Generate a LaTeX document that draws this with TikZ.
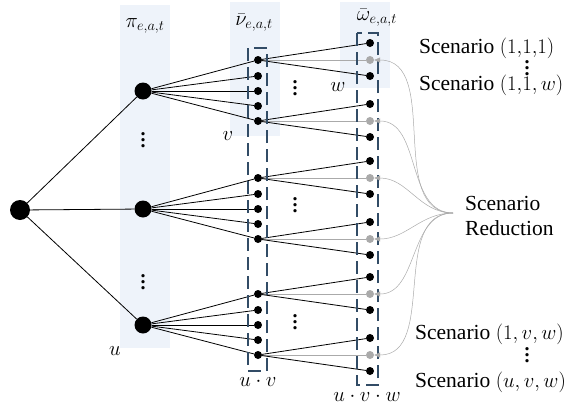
\documentclass[tikz,border=0pt]{standalone}
\usepackage{fontspec}
\setmainfont{Liberation Serif}
\usetikzlibrary{arrows.meta}
\definecolor{band}{RGB}{238,243,250}
\definecolor{frameblue}{RGB}{50,76,102}
\definecolor{reduced}{RGB}{170,170,170}
% vertical ellipsis with wider spacing than \vdots
\newcommand{\tallvdots}{\vbox{\baselineskip=6pt\lineskiplimit=0pt\hbox{.}\hbox{.}\hbox{.}}}
\tikzset{
  bigdot/.style={circle,fill=black,inner sep=0pt,minimum size=#1},
  dotA/.style={bigdot=20pt},
  dotB/.style={bigdot=17pt},
  dotC/.style={bigdot=8pt},
  dotR/.style={circle,fill=reduced,inner sep=0pt,minimum size=8pt},
  edge/.style={black,line width=0.8pt},
  redge/.style={reduced,line width=0.8pt},
  stagebox/.style={frameblue,line width=2.6pt,dash pattern=on 13pt off 6pt},
  reduce/.style={reduced,line width=0.5pt,-{Triangle[length=6pt,width=5pt]}},
  lbl/.style={inner sep=0pt,font=\fontsize{22}{26}\selectfont},
  txt/.style={inner sep=0pt,font=\fontsize{21.5}{25}\selectfont},
  ell/.style={inner sep=0pt,font=\fontsize{20}{20}\selectfont\bfseries},
}
\begin{document}
\begin{tikzpicture}[x=1pt,y=-1pt]
\useasboundingbox (0,0) rectangle (566,413);
% shaded stage columns
\fill[band] (120,5) rectangle (170,348);
\fill[band] (230,2) rectangle (280,136);
\fill[band] (340,2) rectangle (390,88);
% stage labels
\node[lbl] (lpi) at (145,26) {$\pi_{e,a,t}$};
\node[lbl] (lnu) at (254,23) {$\bar{\nu}_{e,a,t}$};
\node[lbl] (lom) at (377,18) {$\bar{\omega}_{e,a,t}$};
% root
\node[dotA] (r) at (20,210) {};
% scenario tree
\foreach \i/\yc in {1/91,2/209,3/325} {
  \node[dotB] (a\i) at (143,\yc) {};
  \draw[edge] (r) -- (a\i);
  \foreach \j/\dy in {1/-31,2/-15,3/0,4/15,5/30} {
    \node[dotC] (b\i\j) at (258,\yc+\dy) {};
    \draw[edge] (a\i) -- (b\i\j);
  }
  \foreach \j in {1,5} {
    \path (b\i\j) ++(112,-17) node[dotC] (c\i\j1) {};
    \path (b\i\j) ++(112,0) node[dotR] (c\i\j2) {};
    \path (b\i\j) ++(112,16) node[dotC] (c\i\j3) {};
    \draw[edge] (b\i\j) -- (c\i\j1);
    \draw[redge] (b\i\j) -- (c\i\j2);
    \draw[edge] (b\i\j) -- (c\i\j3);
  }
}
% vertical ellipses
\node[ell] (d1) at (143,140) {\tallvdots};
\node[ell] (d2) at (143,282) {\tallvdots};
\node[ell] (d3) at (295,88) {\tallvdots};
\node[ell] (d4) at (295,205) {\tallvdots};
\node[ell] (d5) at (295,322) {\tallvdots};
% stage boxes
\draw[stagebox] (248,48) rectangle (267,371);
\draw[stagebox] (357,33) rectangle (378,385);
% branch counts
\node[lbl] (lv) at (228,136) {$v$};
\node[lbl] (lw) at (338,87) {$w$};
\node[lbl] (lu) at (115,351) {$u$};
\node[lbl] (luv) at (258,382) {$u\cdot v$};
\node[lbl] (luvw) at (367,397) {$u\cdot v\cdot w$};
% scenario labels
\node[txt,anchor=base west] (s1) at (419,53) {Scenario $(1{,}1{,}1)$};
\node[ell] (s1d) at (527,68) {\tallvdots};
\node[txt,anchor=base west] (s2) at (419,90) {Scenario $(1{,}1,w)$};
\node[txt,anchor=base west] (s3) at (415,339) {Scenario $(1,v,w)$};
\node[ell] (s3d) at (527,355) {\tallvdots};
\node[txt,anchor=base west] (s4) at (415,387) {Scenario $(u,v,w)$};
\node[txt,anchor=base west] (red1) at (465,210) {Scenario};
\node[txt,anchor=base west] (red2) at (465,235) {Reduction};
% scenario reduction arrows
\coordinate (m) at (453,213);
\foreach \k in {11,15,21,25,31,35} {
  \draw[reduce] (m) to[out=180,in=0] (c\k2);
}
\end{tikzpicture}
\end{document}
